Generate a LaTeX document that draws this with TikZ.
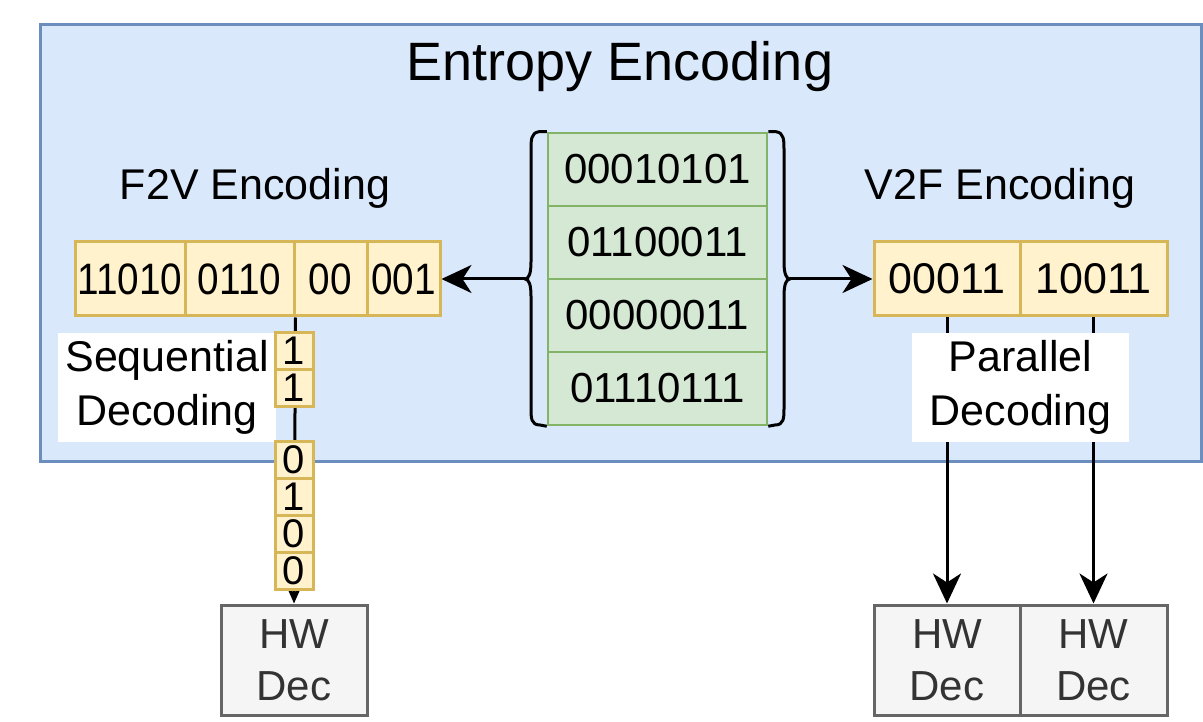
\documentclass[tikz,border=0pt]{standalone}
\usepackage{fontspec}
\setmainfont{Liberation Sans}
\newfontfamily\narrowdigits[FakeStretch=0.88]{Liberation Sans}
\usetikzlibrary{arrows.meta}
\definecolor{blueF}{HTML}{DAE8FC}
\definecolor{blueS}{HTML}{6C8EBF}
\definecolor{yelF}{HTML}{FFF2CC}
\definecolor{yelS}{HTML}{D6B656}
\definecolor{greF}{HTML}{D5E8D4}
\definecolor{greS}{HTML}{82B366}
\definecolor{grayF}{HTML}{F5F5F5}
\definecolor{grayS}{HTML}{666666}
\definecolor{grayT}{HTML}{333333}
\begin{document}
\begin{tikzpicture}[x=1pt,y=-1pt,
  outerbox/.style={draw=blueS, fill=blueF, line width=3pt, inner sep=0pt, minimum width=1161pt, minimum height=437pt},
  ycell/.style={draw=yelS, fill=yelF, line width=3pt, inner sep=0pt, minimum height=74pt, font=\fontsize{43}{52}\selectfont},
  narrowcell/.style={ycell, font=\narrowdigits\fontsize{44}{52}\selectfont},
  bitcell/.style={draw=yelS, fill=yelF, line width=3pt, inner sep=0pt, minimum width=38pt, minimum height=37pt, font=\fontsize{40}{48}\selectfont},
  gcell/.style={draw=greS, fill=greF, line width=2.5pt, inner sep=0pt, minimum width=219pt, minimum height=73pt, font=\fontsize{42}{52}\selectfont},
  lbl/.style={fill=white, inner sep=0pt, minimum width=218pt, minimum height=109pt, align=center, font=\fontsize{43}{54}\selectfont},
  hwbox/.style={draw=grayS, fill=grayF, text=grayT, line width=3pt, inner sep=0pt, minimum width=146pt, minimum height=110pt, align=center, font=\fontsize{42}{52}\selectfont},
  heading/.style={anchor=base, inner sep=0pt, font=\fontsize{43}{52}\selectfont},
  brace/.style={line width=3pt, line join=round},
  bigarrow/.style={line width=3pt, -{Stealth[length=30pt, width=28pt, inset=9pt]}},
  smallarrow/.style={line width=3pt, -{Stealth[length=15pt, width=13pt, inset=4pt]}}
]
\useasboundingbox (0,0) rectangle (1203,722);

% outer container
\node[outerbox, anchor=north west] (outer) at (39,23) {};
\node[anchor=base, inner sep=0pt, font=\fontsize{54}{64}\selectfont] (title) at (620,81) {Entropy Encoding};

% headings
\node[heading] (f2v) at (255,200) {F2V Encoding};
\node[heading] (v2f) at (1000,200) {V2F Encoding};

% green column
\node[gcell] (g1) at (657.5,169.5) {00010101};
\node[gcell] (g2) at (657.5,242.5) {01100011};
\node[gcell] (g3) at (657.5,315.5) {00000011};
\node[gcell] (g4) at (657.5,388.5) {01110111};

% braces
\coordinate (lb) at (525,279);
\coordinate (rb) at (790,279);
\draw[brace] (g1.north west) -- ++(-8,0) .. controls (531,133) and (531,140) .. (531,150)
  -- (531,262) .. controls (531,273) and (529,279) .. (lb)
  .. controls (529,279) and (531,285) .. (531,296) -- (531,408)
  .. controls (531,418) and (531,425) .. (540,425) -- (g4.south west);
\draw[brace] (g1.north east) -- ++(8,0) .. controls (784,133) and (784,140) .. (784,150)
  -- (784,262) .. controls (784,273) and (786,279) .. (rb)
  .. controls (786,279) and (784,285) .. (784,296) -- (784,408)
  .. controls (784,418) and (784,425) .. (775,425) -- (g4.south east);

% left row
\node[narrowcell, minimum width=110pt] (c1) at (130,279) {11010};
\node[narrowcell, minimum width=109pt] (c2) at (239.5,279) {0110};
\node[narrowcell, minimum width=73pt] (c3) at (330.5,279) {00};
\node[narrowcell, minimum width=73pt] (c4) at (403.5,279) {001};

% right row
\node[ycell, minimum width=146pt] (r1) at (947,279) {00011};
\node[ycell, minimum width=147pt] (r2) at (1093.5,279) {10011};

% arrows from braces
\draw[bigarrow] (lb) -- (c4.east);
\draw[bigarrow] (rb) -- (r1.west);

% HW decoders
\node[hwbox] (hw1) at (294,660) {HW\\Dec};
\node[hwbox] (hw2) at (947,660) {HW\\Dec};
\node[hwbox, minimum width=147pt] (hw3) at (1093.5,660) {HW\\Dec};

% connectors
\draw[smallarrow] (c2.south east) -- (hw1.north);
\draw[bigarrow] (r1.south) -- (hw2.north);
\draw[bigarrow] (r2.south) -- (hw3.north);

% labels
\node[lbl] (seq) at (167,387.5) {Sequential\\Decoding};
\node[lbl, minimum width=217pt] (par) at (1020.5,387.5) {Parallel\\Decoding};

% bit stream cells
\node[bitcell] (s1) at (294,350.5) {1};
\node[bitcell] (s2) at (294,387.5) {1};
\node[bitcell] (s3) at (294,459.5) {0};
\node[bitcell] (s4) at (294,496.5) {1};
\node[bitcell] (s5) at (294,533.5) {0};
\node[bitcell] (s6) at (294,570.5) {0};
\end{tikzpicture}
\end{document}
